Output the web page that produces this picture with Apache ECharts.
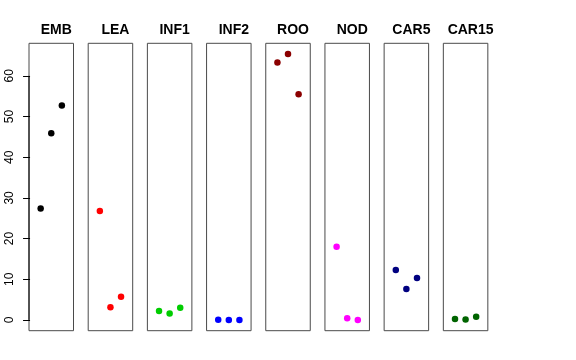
<!DOCTYPE html>
<html><head><meta charset="utf-8">
<script src="https://cdn.jsdelivr.net/npm/echarts@6/dist/echarts.min.js"></script>
<style>html,body{margin:0;padding:0;background:#fff}#c{width:576px;height:360px}</style>
</head><body><div id="c"></div>
<script>
const categories = ['EMB','LEA','INF1','INF2','ROO','NOD','CAR5','CAR15'];
const EMB = [27.4, 45.9, 52.7];
const LEA = [26.8, 3.1, 5.7];
const INF1 = [2.2, 1.6, 3.0];
const INF2 = [0.05, 0.0, 0.0];
const ROO = [63.3, 65.4, 55.5];
const NOD = [18.0, 0.4, 0.0];
const CAR5 = [12.3, 7.6, 10.3];
const CAR15 = [0.25, 0.1, 0.8];
const seriesValues = [EMB, LEA, INF1, INF2, ROO, NOD, CAR5, CAR15];
const colors = ['#000000','#FF0000','#00CD00','#0000FF','#8B0000','#FF00FF','#000080','#006400'];
const xPositions = [1, 2, 3];
const yTicks = [0, 10, 20, 30, 40, 50, 60];

(function () {
const chart = echarts.init(document.getElementById('c'), null, {renderer:'canvas'});
const FONT = 'Liberation Sans, Arial, Helvetica, sans-serif';
const left0 = 29, step = 59.19, w = 44.5, gTop = 43.3, gBottom = 29.3;
const YMIN = -2.65, YMAX = 68.0;
const grids = [], xAxes = [], yAxes = [], series = [], titles = [];
categories.forEach((name, i) => {
  const l = left0 + step * i;
  grids.push({left: l, width: w, top: gTop, bottom: gBottom, show: true, borderColor: '#4a4a4a', borderWidth: 1, backgroundColor: 'transparent'});
  xAxes.push({type: 'value', gridIndex: i, min: -0.1, max: 4.1, show: false});
  yAxes.push({
    type: 'value', gridIndex: i, min: YMIN, max: YMAX, show: i === 0,
    splitLine: {show: false},
    axisLine: {show: false},
    axisTick: {show: true, length: 7, inside: false, customValues: yTicks, lineStyle: {color: '#000'}},
    axisLabel: {show: true, customValues: yTicks, rotate: 90, margin: 13, fontSize: 12, color: '#000', fontFamily: FONT}
  });
  titles.push({text: name, left: l + w / 2, top: 18, textAlign: 'center',
    textStyle: {fontSize: 14, fontWeight: 'bold', color: '#000', fontFamily: FONT}});
  series.push({
    type: 'scatter', xAxisIndex: i, yAxisIndex: i, symbol: 'circle', symbolSize: 6.5,
    itemStyle: {color: colors[i], opacity: 1}, silent: true,
    data: seriesValues[i].map((v, j) => [xPositions[j], v])
  });
});
series.push({
  type: 'line', xAxisIndex: 0, yAxisIndex: 0, symbol: 'none', silent: true,
  lineStyle: {color: '#000', width: 1}, clip: false,
  data: [[-0.1, yTicks[0]], [-0.1, yTicks[yTicks.length - 1]]]
});
chart.setOption({animation: false, title: titles, grid: grids, xAxis: xAxes, yAxis: yAxes, series: series});
})();
</script></body></html>
